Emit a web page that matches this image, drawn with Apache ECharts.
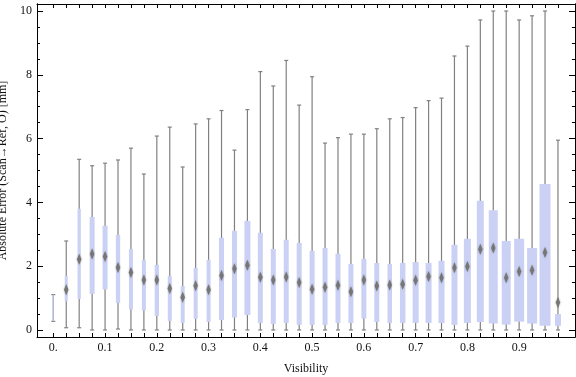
<!DOCTYPE html>
<html>
<head>
<meta charset="utf-8">
<script src="https://cdn.jsdelivr.net/npm/echarts@6/dist/echarts.min.js"></script>
<style>
html, body { margin: 0; padding: 0; background: #fff; }
#main { width: 576px; height: 377px; }
</style>
</head>
<body>
<div id="main"></div>
<script>
// box positions along the visibility axis
var visibility = [0, 0.025, 0.05, 0.075, 0.1, 0.125, 0.15, 0.175, 0.2, 0.225,
    0.25, 0.275, 0.3, 0.325, 0.35, 0.375, 0.4, 0.425, 0.45, 0.475,
    0.5, 0.525, 0.55, 0.575, 0.6, 0.625, 0.65, 0.675, 0.7, 0.725,
    0.75, 0.775, 0.8, 0.825, 0.85, 0.875, 0.9, 0.925, 0.95, 0.975];
var whiskerLow = [0.27, 0.07, 0.07, 0, 0, 0.03, 0, 0, 0, 0,
    0, 0, 0, 0, 0, 0, 0, 0, 0, 0,
    0, 0, 0, 0, 0, 0, 0, 0, 0, 0,
    0, 0, 0, 0, 0, 0, 0, 0, 0, 0];
var q1 = [0.27, 0.9, 0.97, 1.13, 1.27, 0.85, 0.64, 0.61, 0.44, 0.28,
    0.22, 0.35, 0.25, 0.31, 0.39, 0.47, 0.22, 0.19, 0.22, 0.16,
    0.16, 0.16, 0.22, 0.22, 0.36, 0.25, 0.22, 0.22, 0.22, 0.22,
    0.22, 0.16, 0.22, 0.25, 0.2, 0.17, 0.26, 0.2, 0.13, 0.13];
var median = [0.7, 1.26, 2.22, 2.38, 2.3, 1.96, 1.8, 1.57, 1.57, 1.3,
    1.03, 1.39, 1.26, 1.71, 1.92, 2.03, 1.65, 1.57, 1.66, 1.49,
    1.28, 1.34, 1.4, 1.2, 1.57, 1.38, 1.41, 1.43, 1.56, 1.68,
    1.64, 1.95, 1.99, 2.53, 2.57, 1.64, 1.83, 1.87, 2.43, 0.86];
var q3 = [1.11, 1.7, 3.8, 3.54, 3.27, 2.98, 2.54, 2.2, 2.04, 1.7,
    1.38, 1.95, 2.2, 2.89, 3.11, 3.42, 3.05, 2.54, 2.83, 2.73,
    2.48, 2.57, 2.39, 2.07, 2.23, 2.1, 2.07, 2.1, 2.13, 2.1,
    2.17, 2.67, 2.86, 4.05, 3.75, 2.79, 2.86, 2.57, 4.58, 0.5];
var whiskerHigh = [1.11, 2.79, 5.35, 5.15, 5.23, 5.33, 5.7, 4.89, 6.08, 6.36,
    5.11, 6.46, 6.62, 6.88, 5.64, 6.91, 8.1, 7.65, 8.45, 7.05,
    7.94, 5.86, 6.03, 6.14, 6.14, 6.31, 6.62, 6.66, 6.97, 7.19,
    7.27, 8.59, 8.9, 9.72, 10, 10, 9.72, 9.85, 10, 5.95];
// relative box weight (drawn as box width)
var boxWeight = [1.5, 3, 3.3, 5, 5, 4.3, 4, 4, 4.3, 4,
    4, 4, 4, 5, 5, 6, 5, 5, 5, 5,
    5, 5, 5, 5, 5, 5, 4.5, 5.5, 6, 6,
    6, 6, 7, 7, 9, 9, 10, 10, 11, 6];
var xTickLabels = [0, 0.1, 0.2, 0.3, 0.4, 0.5, 0.6, 0.7, 0.8, 0.9];
var yTickLabels = [0, 2, 4, 6, 8, 10];
var yMinorTicks = [0, 0.5, 1, 1.5, 2, 2.5, 3, 3.5, 4, 4.5, 5, 5.5, 6, 6.5, 7, 7.5, 8, 8.5, 9, 9.5, 10];

var serif = 'Liberation Serif';
var xMin = -0.0315, xMax = 1.0079;
var yMin = -0.22, yMax = 10.22;

var boxData = [];
for (var i = 0; i < visibility.length; i++) {
    boxData.push([visibility[i], whiskerLow[i], q1[i], median[i], q3[i], whiskerHigh[i], boxWeight[i]]);
}

function renderBox(params, api) {
    var x = api.value(0);
    var pLow = api.coord([x, api.value(1)]);
    var pQ1 = api.coord([x, api.value(2)]);
    var pMed = api.coord([x, api.value(3)]);
    var pQ3 = api.coord([x, api.value(4)]);
    var pHigh = api.coord([x, api.value(5)]);
    var w = api.value(6);
    var cx = pLow[0];
    var gray = { stroke: '#808080', lineWidth: 1.2 };
    var kids = [
        { type: 'line', shape: { x1: cx, y1: pLow[1], x2: cx, y2: pHigh[1] }, style: gray },
        { type: 'line', shape: { x1: cx - 2, y1: pLow[1], x2: cx + 2, y2: pLow[1] }, style: gray },
        { type: 'line', shape: { x1: cx - 2, y1: pHigh[1], x2: cx + 2, y2: pHigh[1] }, style: gray },
        { type: 'rect', shape: { x: cx - w / 2, y: pQ3[1], width: w, height: pQ1[1] - pQ3[1] },
          style: { fill: w < 2 ? 'rgba(190,198,240,0.8)' : '#cbd1f4' } }
    ];
    if (w >= 2) {
        var hw = 2.2, hh = 5.5;
        kids.push({
            type: 'polygon',
            shape: { points: [[cx, pMed[1] - hh], [cx + hw, pMed[1]], [cx, pMed[1] + hh], [cx - hw, pMed[1]]] },
            style: { fill: '#767676', shadowBlur: 2, shadowColor: 'rgba(110,110,110,0.6)' }
        });
    }
    return { type: 'group', children: kids };
}

function xAxisDef(pos) {
    var bottom = pos === 'bottom';
    return {
        type: 'value', position: pos, min: xMin, max: xMax,
        axisLine: { show: true, onZero: false, lineStyle: { color: '#000', width: 1 } },
        axisTick: { show: true, inside: true, length: 4, customValues: visibility, lineStyle: { color: '#000' } },
        axisLabel: {
            show: bottom, customValues: xTickLabels, margin: 5,
            fontFamily: serif, fontSize: 12, color: '#111',
            formatter: function (v) { return v === 0 ? '0.' : v.toFixed(1); }
        },
        splitLine: { show: false },
        name: bottom ? 'Visibility' : '', nameLocation: 'middle', nameGap: 26,
        nameTextStyle: { fontFamily: serif, fontSize: 12, color: '#111' }
    };
}

function yAxisDef(pos, major) {
    var label = pos === 'left' && major;
    return {
        type: 'value', position: pos, min: yMin, max: yMax,
        axisLine: { show: true, onZero: false, lineStyle: { color: '#000', width: 1 } },
        axisTick: { show: true, inside: true, length: major ? 6 : 3,
            customValues: major ? yTickLabels : yMinorTicks, lineStyle: { color: '#000' } },
        axisLabel: { show: label, customValues: yTickLabels, margin: 5,
            fontFamily: serif, fontSize: 12, color: '#111' },
        splitLine: { show: false },
        name: label ? 'Absolute Error (Scan\u2192Ref, O) [mm]' : '',
        nameLocation: 'middle', nameRotate: 90, nameGap: 22,
        nameTextStyle: { fontFamily: serif, fontSize: 12, color: '#111' }
    };
}

var chart = echarts.init(document.getElementById('main'));
chart.setOption({
    animation: false,
    backgroundColor: '#fff',
    grid: { left: 37, right: 1, top: 4, bottom: 40, containLabel: false, outerBoundsMode: 'none' },
    xAxis: [xAxisDef('bottom'), xAxisDef('top')],
    yAxis: [yAxisDef('left', true), yAxisDef('left', false), yAxisDef('right', true), yAxisDef('right', false)],
    series: [{
        type: 'custom',
        renderItem: renderBox,
        data: boxData,
        encode: { x: 0, y: [1, 5] },
        clip: true
    }]
});
</script>
</body>
</html>
